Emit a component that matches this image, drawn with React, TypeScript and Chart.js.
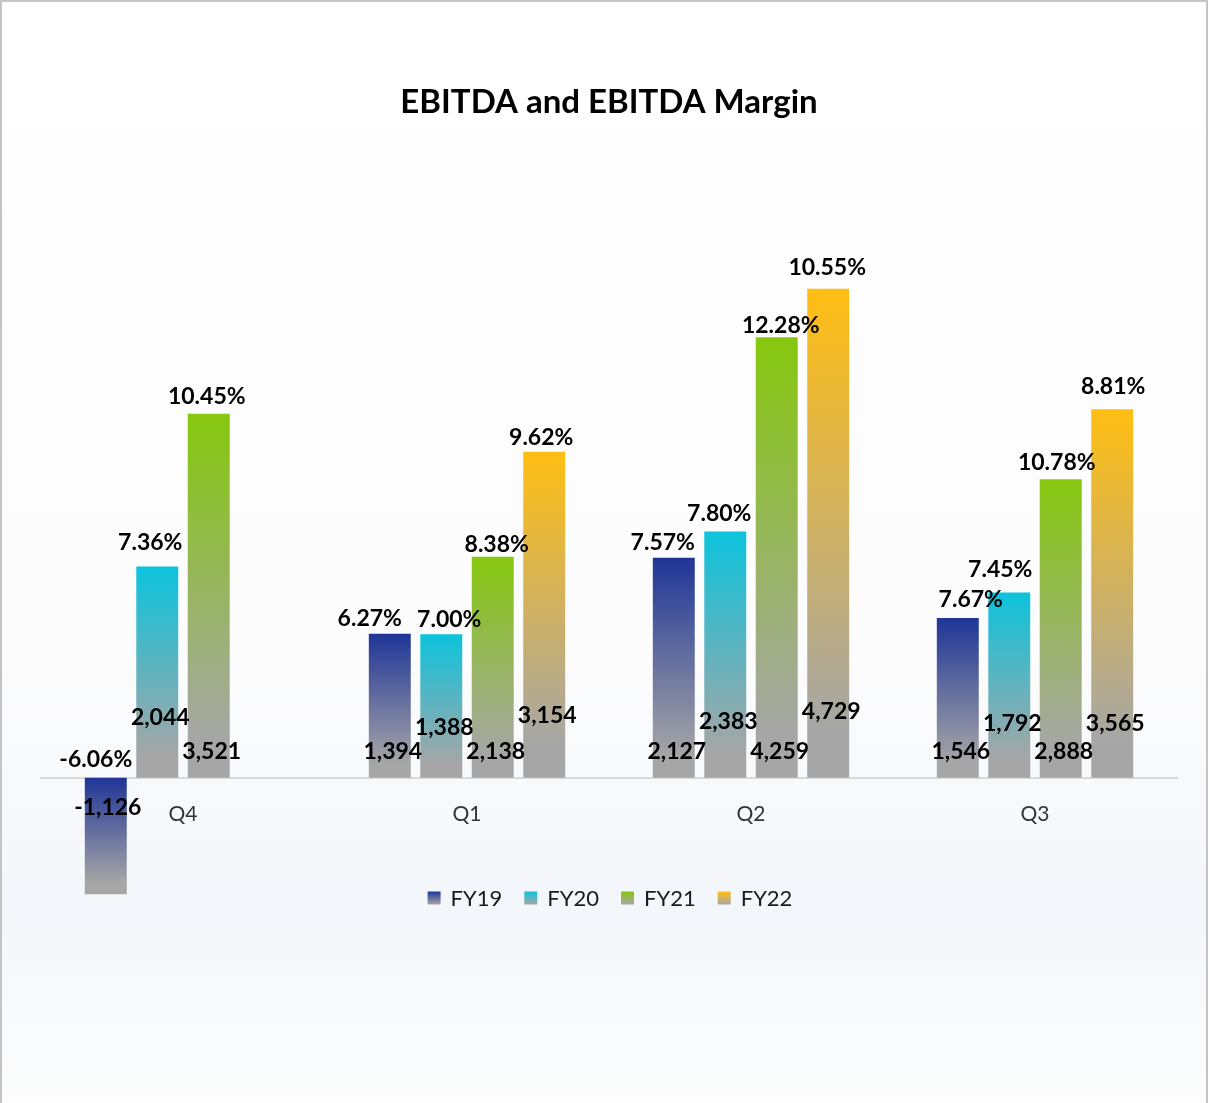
import React, { useEffect, useRef } from 'react';
import { Chart, registerables } from 'chart.js';

Chart.register(...registerables);

const categories = ['Q4', 'Q1', 'Q2', 'Q3'];
const seriesNames = ['FY19', 'FY20', 'FY21', 'FY22'];

const fy19Ebitda = [-1126, 1394, 2127, 1546];
const fy20Ebitda = [2044, 1388, 2383, 1792];
const fy21Ebitda = [3521, 2138, 4259, 2888];
const fy22Ebitda = [null, 3154, 4729, 3565];

const fy19Margin = [-6.06, 6.27, 7.57, 7.67];
const fy20Margin = [7.36, 7.0, 7.8, 7.45];
const fy21Margin = [10.45, 8.38, 12.28, 10.78];
const fy22Margin = [null, 9.62, 10.55, 8.81];

const Y_MIN = -1500;
const Y_MAX = 5500;

const COLORS = ['#1f3597', '#0cc3dc', '#86c70e', '#ffbe13'];
const GRAY = '#a6a6a6';
const FONT = 'Lato, "Noto Sans", sans-serif';

// label styling (series x category): placement nudges of the labels, as in the original
const VALUE_LIFT = [
  [26, 26, 26, 26],
  [60, 50, 56, 54],
  [26, 26, 26, 26],
  [58, 62, 66, 54],
];
const PCT_NUDGE_X = [
  [-10, -20, -11, 13],
  [-7, 8, -6, -9],
  [-2, 4, 4, -4],
  [0, -3, -1, 1],
];
const PCT_LIFT = [
  [18, 15, 15, 18],
  [24, 15, 18, 23],
  [17, 12, 12, 17],
  [17, 14, 21, 23],
];

const ebitdaSeries = [fy19Ebitda, fy20Ebitda, fy21Ebitda, fy22Ebitda];
const marginSeries = [fy19Margin, fy20Margin, fy21Margin, fy22Margin];

const fmtNum = (v: number) => v.toLocaleString('en-US');
const fmtPct = (v: number) => v.toFixed(2) + '%';

function barFill(color: string) {
  return (ctx: any) => {
    const chart = ctx.chart;
    if (ctx.type !== 'data' || ctx.raw == null || !chart.chartArea) return color;
    const ys = chart.scales.y;
    const p0 = ys.getPixelForValue(0);
    const p1 = ys.getPixelForValue(ctx.raw);
    const top = Math.min(p0, p1);
    const bottom = Math.max(p0, p1);
    if (bottom - top < 1) return color;
    const g = chart.ctx.createLinearGradient(0, top, 0, bottom);
    g.addColorStop(0, color);
    g.addColorStop(0.9, GRAY);
    g.addColorStop(1, GRAY);
    return g;
  };
}

const backgroundPlugin = {
  id: 'bg',
  beforeDraw(chart: any) {
    const { ctx, width, height } = chart;
    ctx.save();
    const g = ctx.createLinearGradient(0, 0, 0, height);
    g.addColorStop(0, '#ffffff');
    g.addColorStop(0.6, '#fcfcfd');
    g.addColorStop(0.82, '#f3f6fa');
    g.addColorStop(0.9, '#f7f9fb');
    g.addColorStop(1, '#fdfdfd');
    ctx.fillStyle = g;
    ctx.fillRect(0, 0, width, height);
    ctx.strokeStyle = '#c4c4c4';
    ctx.lineWidth = 2;
    ctx.strokeRect(1, 1, width - 2, height + 4);
    ctx.restore();
  },
};

const labelsPlugin = {
  id: 'barLabels',
  afterDatasetsDraw(chart: any) {
    const ctx = chart.ctx;
    ctx.save();
    ctx.font = `bold 23px ${FONT}`;
    ctx.fillStyle = '#000000';
    ctx.textAlign = 'center';
    ctx.textBaseline = 'middle';
    chart.data.datasets.forEach((ds: any, di: number) => {
      const meta = chart.getDatasetMeta(di);
      meta.data.forEach((bar: any, i: number) => {
        const v = ds.data[i];
        if (v == null) return;
        const m = marginSeries[di][i];
        const dx = PCT_NUDGE_X[di][i];
        const lift = PCT_LIFT[di][i];
        const { x, y, base } = bar.getProps(['x', 'y', 'base'], true);
        if (v >= 0) {
          ctx.fillText(fmtNum(v), x + 3, base - VALUE_LIFT[di][i]);
          if (m != null) ctx.fillText(fmtPct(m), x + dx, y - lift);
        } else {
          ctx.fillText(fmtNum(v), x + 2, base + 30);
          if (m != null) ctx.fillText(fmtPct(m), x + dx, base - lift);
        }
      });
    });
    ctx.restore();
  },
};

const legendPlugin = {
  id: 'customLegend',
  afterDraw(chart: any) {
    const ctx = chart.ctx;
    ctx.save();
    ctx.font = `22px ${FONT}`;
    ctx.textBaseline = 'middle';
    ctx.textAlign = 'left';
    const box = 13;
    const gap = 10;
    const itemGap = 22;
    const widths = seriesNames.map((n) => box + gap + ctx.measureText(n).width);
    const total = widths.reduce((a, b) => a + b, 0) + itemGap * (seriesNames.length - 1);
    const cy = 898;
    let x = 610 - total / 2;
    seriesNames.forEach((n, i) => {
      const g = ctx.createLinearGradient(0, cy - box / 2, 0, cy + box / 2);
      g.addColorStop(0, COLORS[i]);
      g.addColorStop(1, GRAY);
      ctx.fillStyle = g;
      ctx.fillRect(x, cy - box / 2, box, box);
      ctx.fillStyle = '#1a1a1a';
      ctx.fillText(n, x + box + gap, cy + 1);
      x += widths[i] + itemGap;
    });
    ctx.restore();
  },
};

export default function App() {
  const canvasRef = useRef<HTMLCanvasElement | null>(null);

  useEffect(() => {
    if (!canvasRef.current) return;
    const chart = new Chart(canvasRef.current, {
      type: 'bar',
      data: {
        labels: categories,
        datasets: seriesNames.map((name, i) => ({
          label: name,
          data: ebitdaSeries[i],
          backgroundColor: barFill(COLORS[i]),
          borderWidth: 0,
          barPercentage: 0.815,
          categoryPercentage: 0.725,
        })),
      },
      options: {
        responsive: false,
        animation: false,
        events: [],
        layout: { padding: { left: 41, right: 31, top: 0, bottom: 170 } },
        plugins: {
          legend: { display: false },
          tooltip: { enabled: false },
          title: {
            display: true,
            text: 'EBITDA and EBITDA Margin',
            color: '#000000',
            font: { family: FONT, size: 33, weight: 'bold', lineHeight: 1.2 },
            padding: { top: 82.2, bottom: 87.2 },
          },
        },
        scales: {
          x: {
            position: { y: 0 } as any,
            grid: { display: false },
            border: { display: true, color: '#d9d9d9', width: 2 },
            ticks: {
              color: '#333333',
              padding: 16,
              font: { family: FONT, size: 21 },
            },
          },
          y: {
            display: false,
            min: Y_MIN,
            max: Y_MAX,
          },
        },
      },
      plugins: [backgroundPlugin, labelsPlugin, legendPlugin],
    });
    return () => chart.destroy();
  }, []);

  return (
    <div style={{ position: 'absolute', left: 0, top: 0, width: 1208, height: 1103 }}>
      <canvas ref={canvasRef} width={1208} height={1103} style={{ display: 'block' }} />
    </div>
  );
}
